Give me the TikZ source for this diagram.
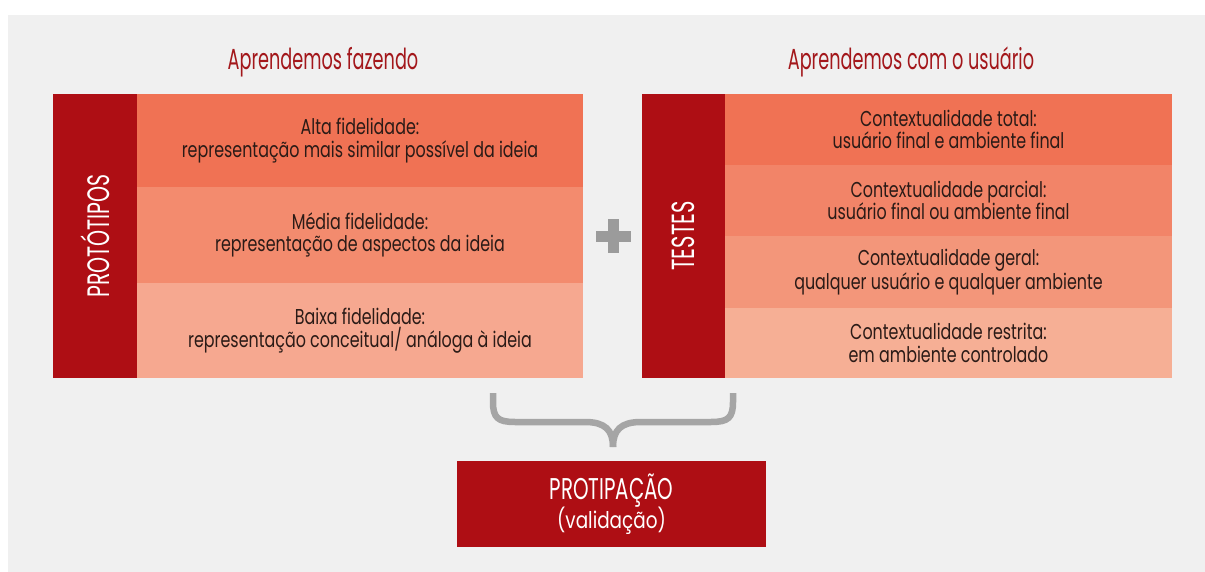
\documentclass[tikz,border=0pt]{standalone}
\usepackage{fontspec}
\setmainfont{Poppins}[FakeStretch=0.74]
\newfontfamily\ttlfont{Poppins}[FakeStretch=0.61]
\newfontfamily\capfont{Poppins}[FakeStretch=0.66]
\newfontfamily\smfont{Poppins}[FakeStretch=0.8]
\definecolor{bg}{HTML}{F0F0F0}
\definecolor{dred}{HTML}{AE0E14}
\definecolor{tred}{HTML}{A3171B}
\definecolor{rowA}{HTML}{F07254}
\definecolor{rowB}{HTML}{F38B6E}
\definecolor{rowC}{HTML}{F6A890}
\definecolor{rowR2}{HTML}{F28468}
\definecolor{rowR3}{HTML}{F3967A}
\definecolor{rowR4}{HTML}{F6AF95}
\definecolor{ink}{HTML}{2B1B17}
\definecolor{grayp}{HTML}{9B9B9B}
\definecolor{grayb}{HTML}{A5A5A5}
\begin{document}
\begin{tikzpicture}[x=1pt,y=-1pt,
  cell/.style={inner sep=0pt, outer sep=0pt, anchor=north west, align=center, text=ink,
    font=\fontsize{21.5}{22.5}\selectfont},
  redbox/.style={inner sep=0pt, outer sep=0pt, anchor=north west, fill=dred, text=white},
  ttl/.style={text=tred, font=\ttlfont\fontsize{29}{29}\selectfont},
  brace/.style={draw=grayb, line width=6.5pt}]
\useasboundingbox (0,0) rectangle (1205,572);
\fill[white] (0,0) rectangle (1205,572);
\fill[bg] (8,15) rectangle (1205,572);
% titles
\node[ttl] (t1) at (323,62) {Aprendemos fazendo};
\node[ttl] (t2) at (911,62) {Aprendemos com o usuário};
% left block
\node[redbox, minimum width=84pt, minimum height=284pt] (prot) at (53,94) {};
\node[text=white, rotate=90, font=\capfont\fontsize{31}{31}\selectfont] (protl) at (prot.center) {PROTÓTIPOS};
\node[cell, fill=rowA, minimum width=446pt, minimum height=93pt] (l1) at (137,94)
  {Alta fidelidade:\\representação mais similar possível da ideia};
\node[cell, fill=rowB, minimum width=446pt, minimum height=96pt] (l2) at (137,187)
  {Média fidelidade:\\representação de aspectos da ideia};
\node[cell, fill=rowC, minimum width=446pt, minimum height=95pt] (l3) at (137,283)
  {Baixa fidelidade:\\representação conceitual/ análoga à ideia};
% plus
\fill[grayp] (596,231) rectangle (631,242);
\fill[grayp] (608,219) rectangle (619,253);
% right block
\node[redbox, minimum width=83pt, minimum height=284pt] (test) at (642,94) {};
\node[text=white, rotate=90, font=\capfont\fontsize{32}{32}\selectfont] (testl) at (test.center) {TESTES};
\node[cell, fill=rowA, minimum width=447pt, minimum height=71pt] (r1) at (725,94)
  {Contextualidade total:\\usuário final e ambiente final};
\node[cell, fill=rowR2, minimum width=447pt, minimum height=71pt] (r2) at (725,165)
  {Contextualidade parcial:\\usuário final ou ambiente final};
\node[cell, fill=rowR3, minimum width=447pt, minimum height=72pt] (r3) at (725,236)
  {Contextualidade geral:\\qualquer usuário e qualquer ambiente};
\node[cell, fill=rowR4, minimum width=447pt, minimum height=70pt] (r4) at (725,308)
  {Contextualidade restrita:\\em ambiente controlado};
% result box
\node[redbox, minimum width=309pt, minimum height=86pt, align=center,
  font=\capfont\fontsize{30}{27}\selectfont] (val) at (457,461)
  {PROTIPAÇÃO\\[-1pt]{\smfont\fontsize{23}{23}\selectfont(validação)}};
% brace
\coordinate (bl) at (493,393);
\coordinate (br) at (733,393);
\coordinate (tip) at (613,447);
\draw[brace] (bl) -- (493,402) .. controls (493,418) and (498,422) .. (515,422)
  -- (585,422) .. controls (605,422) and (613,430) .. (tip);
\draw[brace] (br) -- (733,402) .. controls (733,418) and (728,422) .. (711,422)
  -- (641,422) .. controls (621,422) and (613,430) .. (tip);
\end{tikzpicture}
\end{document}
